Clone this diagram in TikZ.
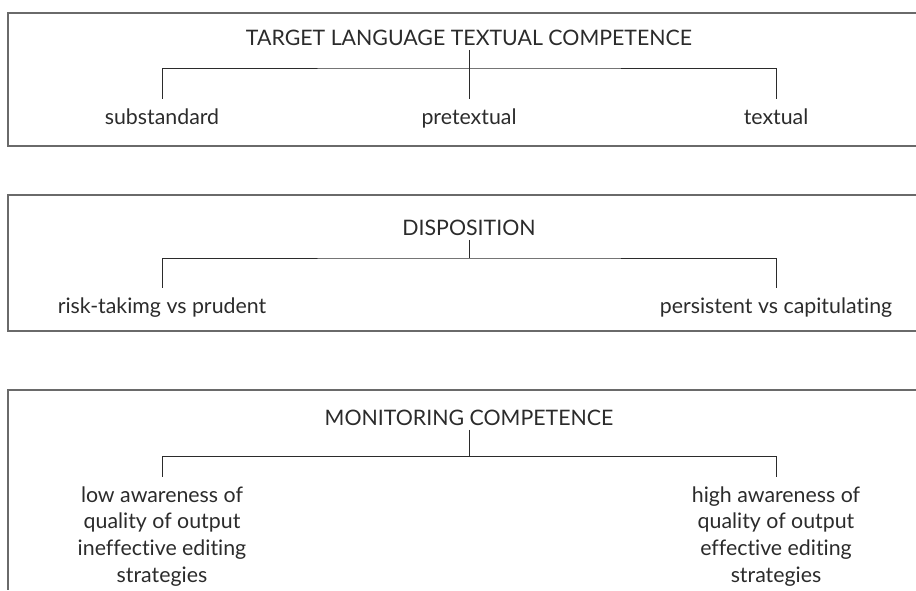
\documentclass[tikz,border=0pt]{standalone}
\usepackage{fontspec}
\setmainfont{Lato}[Ligatures={NoCommon}]
\definecolor{inkgrey}{HTML}{2B2B2B}
\definecolor{framegrey}{HTML}{6A6A6A}
\tikzset{
  head/.style={anchor=base, text=inkgrey, font=\fontsize{16}{20}\selectfont},
  leaf/.style={anchor=base, text=inkgrey, align=center, inner ysep=7pt, font=\fontsize{16}{20}\selectfont},
  frame/.style={draw=framegrey, line width=0.9pt},
  bracket/.style={draw=inkgrey, line width=0.7pt},
}
\begin{document}
\begin{tikzpicture}[x=0.75pt, y=-0.75pt]
      \useasboundingbox (0,0) rectangle (916,590);
      \draw[frame] (916,13) -- (8,13) -- (8,146) -- (916,146);
      \draw[frame] (916,195) -- (8,195) -- (8,331) -- (916,331);
      \draw[frame] (916,390) -- (8,390) -- (8,590);
      \node[head] (tltc) at (469,45) {TARGET LANGUAGE TEXTUAL COMPETENCE};
      \node[leaf] (sub) at (162,124) {substandard};
      \node[leaf] (pre) at (469,124) {pretextual};
      \node[leaf] (tex) at (776,124) {textual};
      \coordinate (join1) at (469,68);
      \draw[bracket] (tltc) to (join1);
      \draw[bracket] (sub.north) |- (join1) -| (tex.north);
      \draw[bracket] (join1) to (pre.north);
      \node[head] (disp) at (469,235) {DISPOSITION};
      \node[leaf] (risk) at (162,313) {risk-takimg vs prudent};
      \node[leaf] (pers) at (776,313) {persistent vs capitulating};
      \coordinate (join2) at (469,258);
      \draw[bracket] (disp) to (join2);
      \draw[bracket] (risk.north) |- (join2) -| (pers.north);
      \node[head] (moni) at (469,425) {MONITORING COMPETENCE};
      \node[leaf] (low) at (162,582) {low awareness of\\quality of output\\ineffective editing\\strategies};
      \node[leaf] (high) at (776,582) {high awareness of\\quality of output\\effective editing\\strategies};
      \coordinate (join3) at (469,456);
      \draw[bracket] (moni) to (join3);
      \draw[bracket] (low.north) |- (join3) -| (high.north);
    \end{tikzpicture}
\end{document}
